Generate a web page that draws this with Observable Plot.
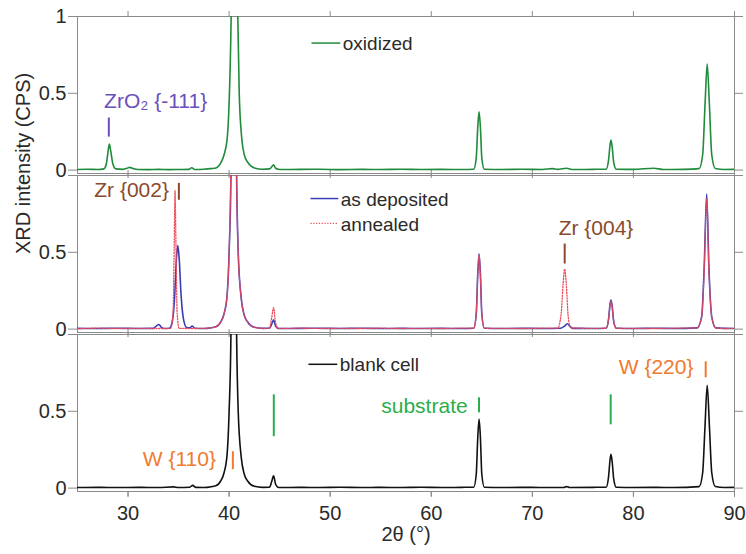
<!DOCTYPE html>
<html><head><meta charset="utf-8">
<script src="https://cdn.jsdelivr.net/npm/d3@7"></script>
<script src="https://cdn.jsdelivr.net/npm/@observablehq/plot@0.6"></script>
<style>body{margin:0;background:#fff} svg{display:block}</style>
</head><body><div id="chart"></div>
<script>
const panels = ["ox", "dep", "blank"];
const xTicks = [30, 40, 50, 60, 70, 80, 90];

// 2θ, normalised intensity
const oxidized = [[25,0.004],[26,0.006],[27,0.004],[27.6,0.008],[27.85,0.04],[28.0,0.11],[28.15,0.17],[28.3,0.12],[28.5,0.04],[28.8,0.008],[29.5,0.005],[29.9,0.012],[30.15,0.018],[30.5,0.01],[31,0.004],[32,0.003],[33,0.005],[34,0.003],[35,0.004],[36,0.005],[36.3,0.015],[36.6,0.004],[37.5,0.006],[38.2,0.01],[38.7,0.014],[39.2,0.05],[39.5,0.1],[39.8,0.2],[40.03,0.5],[40.2,1.0],[40.35,2.0],[40.53,3],[40.7,2.0],[40.86,1.0],[41.0,0.5],[41.26,0.2],[41.5,0.1],[41.85,0.05],[42.5,0.014],[43.3,0.006],[44.0,0.008],[44.2,0.02],[44.4,0.035],[44.6,0.012],[45,0.004],[47,0.005],[49,0.006],[51,0.003],[53,0.005],[55,0.004],[57,0.006],[59,0.004],[61,0.005],[63,0.004],[64.2,0.006],[64.45,0.08],[64.6,0.28],[64.73,0.38],[64.86,0.28],[65.0,0.08],[65.25,0.006],[67,0.004],[69,0.006],[71,0.004],[72,0.01],[72.5,0.005],[73.4,0.012],[74,0.004],[76,0.005],[77.3,0.006],[77.55,0.07],[77.68,0.16],[77.78,0.195],[77.9,0.15],[78.05,0.05],[78.3,0.006],[80,0.005],[82,0.012],[83,0.004],[85,0.005],[86.5,0.01],[86.85,0.1],[87.1,0.45],[87.3,0.69],[87.5,0.45],[87.75,0.1],[88.1,0.01],[89,0.004],[90,0.005]];

const asDeposited = [[25,0.005],[27,0.004],[29,0.006],[31,0.004],[32.5,0.005],[32.8,0.02],[33.05,0.03],[33.3,0.012],[33.6,0.004],[34.1,0.006],[34.35,0.04],[34.6,0.2],[34.78,0.45],[34.92,0.545],[35.06,0.46],[35.25,0.22],[35.5,0.06],[35.8,0.01],[36.1,0.008],[36.35,0.02],[36.6,0.006],[37.5,0.004],[38.3,0.01],[38.7,0.015],[39.2,0.05],[39.5,0.1],[39.8,0.22],[40.0,0.5],[40.18,1.0],[40.3,2.0],[40.46,3],[40.6,2.0],[40.74,1.0],[40.9,0.5],[41.2,0.2],[41.5,0.09],[41.85,0.045],[42.5,0.012],[43.3,0.005],[44.0,0.006],[44.2,0.03],[44.4,0.06],[44.6,0.02],[44.9,0.004],[47,0.005],[49,0.006],[51,0.004],[53,0.006],[55,0.004],[57,0.005],[59,0.004],[61,0.005],[63,0.004],[64.2,0.006],[64.45,0.1],[64.6,0.36],[64.73,0.49],[64.86,0.36],[65.0,0.1],[65.25,0.006],[67,0.004],[69,0.005],[71,0.004],[72.8,0.006],[73.2,0.02],[73.45,0.035],[73.7,0.02],[74.0,0.005],[76,0.004],[77.3,0.006],[77.55,0.07],[77.68,0.16],[77.78,0.19],[77.9,0.15],[78.05,0.05],[78.3,0.006],[80,0.004],[82,0.006],[84,0.004],[86.3,0.008],[86.75,0.08],[87.0,0.4],[87.25,0.88],[87.47,0.4],[87.75,0.08],[88.15,0.008],[89,0.005],[90,0.004]];

const annealed = [[25,0.003],[27,0.006],[29,0.004],[31,0.005],[33,0.004],[34.2,0.005],[34.45,0.1],[34.57,0.55],[34.65,0.9],[34.74,0.55],[34.86,0.1],[35.05,0.005],[36,0.004],[37.5,0.005],[38.3,0.01],[38.7,0.015],[39.2,0.05],[39.5,0.1],[39.8,0.22],[40.0,0.5],[40.16,1.0],[40.3,2.0],[40.45,3],[40.6,2.0],[40.74,1.0],[40.9,0.5],[41.2,0.2],[41.5,0.09],[41.85,0.045],[42.5,0.012],[43.3,0.005],[44.0,0.006],[44.2,0.07],[44.4,0.14],[44.6,0.04],[44.9,0.004],[47,0.006],[49,0.004],[51,0.005],[53,0.004],[55,0.006],[57,0.004],[59,0.005],[61,0.004],[63,0.006],[64.2,0.006],[64.45,0.1],[64.6,0.35],[64.73,0.48],[64.86,0.35],[65.0,0.1],[65.25,0.006],[67,0.005],[69,0.004],[71,0.006],[72.5,0.006],[72.85,0.1],[73.05,0.3],[73.2,0.39],[73.35,0.3],[73.55,0.08],[73.8,0.008],[76,0.005],[77.3,0.006],[77.55,0.07],[77.68,0.15],[77.78,0.18],[77.9,0.14],[78.05,0.05],[78.3,0.006],[80,0.005],[82,0.004],[84,0.006],[86.3,0.008],[86.75,0.08],[87.0,0.38],[87.25,0.85],[87.47,0.38],[87.75,0.08],[88.15,0.008],[89,0.004],[90,0.005]];

const blankCell = [[25,0.004],[27,0.005],[29,0.004],[31,0.005],[33,0.004],[34.5,0.008],[35,0.004],[36.1,0.006],[36.4,0.018],[36.7,0.005],[37.5,0.004],[38.3,0.01],[38.7,0.015],[39.2,0.05],[39.5,0.1],[39.8,0.22],[40.0,0.5],[40.18,1.0],[40.3,2.0],[40.46,3],[40.6,2.0],[40.74,1.0],[40.9,0.5],[41.2,0.2],[41.5,0.09],[41.85,0.045],[42.5,0.012],[43.3,0.005],[44.0,0.006],[44.2,0.04],[44.4,0.08],[44.6,0.025],[44.9,0.004],[47,0.005],[49,0.004],[51,0.006],[53,0.004],[55,0.005],[57,0.004],[59,0.006],[61,0.004],[63,0.005],[64.2,0.006],[64.45,0.09],[64.6,0.33],[64.73,0.45],[64.86,0.33],[65.0,0.09],[65.25,0.006],[67,0.004],[69,0.005],[71,0.004],[73.1,0.004],[73.4,0.01],[73.7,0.004],[76,0.005],[77.3,0.006],[77.55,0.08],[77.68,0.18],[77.78,0.22],[77.9,0.17],[78.05,0.06],[78.3,0.006],[80,0.004],[82,0.005],[84,0.004],[86.5,0.01],[86.85,0.1],[87.08,0.4],[87.3,0.67],[87.52,0.4],[87.75,0.1],[88.1,0.01],[89,0.004],[90,0.005]];

const seriesNames = ["oxidized", "as deposited", "annealed", "blank cell"];
const seriesPanels = ["ox", "dep", "dep", "blank"];
const seriesColors = ["#1f8b3b", "#3a3db5", "#ee4b5a", "#111111"];

// annotations (label text, 2θ, level within panel)
const noteText   = ["ZrO₂ {-111}", "Zr {002}", "Zr {004}", "W {110}", "substrate", "W {220}"];
const notePanel  = ["ox", "dep", "dep", "blank", "blank", "blank"];
const noteX      = [27.63, 34.05, 72.6, 38.7, 63.6, 85.94];
const noteY      = [0.449, 0.904, 0.658, 0.185, 0.536, 0.789];
const noteAnchor = ["start", "end", "start", "end", "end", "end"];
const noteColor  = ["#6b4fbb", "#8b4a2b", "#8b4a2b", "#f07a2e", "#2bae4a", "#f07a2e"];

const barPanel = ["ox", "dep", "dep", "blank", "blank", "blank", "blank", "blank"];
const barX     = [28.1, 35.03, 73.2, 40.37, 64.72, 44.42, 77.75, 87.15];
const barY1    = [0.215, 0.839, 0.424, 0.12, 0.49, 0.335, 0.412, 0.718];
const barY2    = [0.339, 0.949, 0.554, 0.237, 0.588, 0.607, 0.607, 0.822];
const barColor = ["#6b4fbb", "#8b4a2b", "#8b4a2b", "#f07a2e", "#2bae4a", "#2bae4a", "#2bae4a", "#f07a2e"];

// legend entries
const legPanel = ["ox", "dep", "dep", "blank"];
const legX1 = [48.2, 48.1, 48.1, 47.9];
const legX2 = [51.05, 50.85, 50.85, 50.75];
const legY  = [0.827, 0.85, 0.688, 0.806];

const rows = [oxidized, asDeposited, annealed, blankCell].map((s, i) =>
  s.map(([x, y]) => ({x, y, panel: seriesPanels[i], series: seriesNames[i]})));
const notes = noteText.map((t, i) => ({t, panel: notePanel[i], x: noteX[i], y: noteY[i], anchor: noteAnchor[i], color: noteColor[i]}));
const bars = barX.map((x, i) => ({x, panel: barPanel[i], y1: barY1[i], y2: barY2[i], color: barColor[i]}));
const legend = seriesNames.map((name, i) => ({name, panel: legPanel[i], x1: legX1[i], x2: legX2[i], y: legY[i], color: seriesColors[i]}));

const font = "'Liberation Sans', Arial, Helvetica, sans-serif";
const axisGray = "#8a8a8a";
const textCol = "#2a2a2a";
const dotted = "1.2,1.6";

const lineOpts = (i) => ({x: "x", y: "y", fy: "panel", stroke: seriesColors[i], strokeWidth: i === 2 ? 1.3 : 1.6,
  strokeDasharray: i === 2 ? dotted : null, curve: "monotone-x", clip: true});

const chart = Plot.plot({
  width: 746, height: 554,
  marginLeft: 77, marginRight: 12, marginTop: 16, marginBottom: 62,
  style: {fontFamily: font, background: "#fff", color: textCol},
  x: {domain: [25, 90]},
  y: {domain: [-0.022, 1]},
  fy: {domain: panels, axis: null, paddingInner: 0.01, paddingOuter: 0},
  marks: [
    Plot.frame({stroke: axisGray}),
    // bottom x axis with labels (last panel)
    Plot.axisX({anchor: "bottom", ticks: xTicks, tickSize: 6, tickPadding: 8, fontSize: 20, label: null,
      stroke: axisGray, fill: textCol, tickFormat: d => String(d)}),
    // tick-only x axes on every panel
    Plot.axisX({anchor: "bottom", ticks: xTicks, tickSize: 5, label: null, stroke: axisGray, fill: "none", tickFormat: () => "", facetAnchor: null}),
    Plot.axisX({anchor: "top", ticks: xTicks, tickSize: 6, label: null, stroke: axisGray, fill: "none", tickFormat: () => "", facetAnchor: null}),
    // y axes
    Plot.axisY({anchor: "left", ticks: [0, 0.5], tickSize: 9, tickPadding: 2, fontSize: 20, label: null,
      stroke: axisGray, fill: textCol, tickFormat: d => String(d)}),
    Plot.axisY({anchor: "left", ticks: [1], tickSize: 9, label: null, stroke: axisGray, fill: "none", tickFormat: () => ""}),
    Plot.axisY({anchor: "left", ticks: [1], tickSize: 0, tickPadding: 11, fontSize: 20, label: null,
      stroke: "none", fill: textCol, tickFormat: d => String(d), facetAnchor: "top"}),
    Plot.axisY({anchor: "right", ticks: [0, 0.5, 1], tickSize: 8, label: null, stroke: axisGray, fill: "none", tickFormat: () => ""}),
    // data
    Plot.line(rows[0], lineOpts(0)),
    Plot.line(rows[1], lineOpts(1)),
    Plot.line(rows[2], lineOpts(2)),
    Plot.line(rows[3], lineOpts(3)),
    // peak markers and labels
    Plot.ruleX(bars, {x: "x", y1: "y1", y2: "y2", fy: "panel", stroke: "color", strokeWidth: 2}),
    Plot.text(notes.filter(d => d.anchor === "start"), {x: "x", y: "y", fy: "panel", text: "t", fill: "color", textAnchor: "start", fontSize: 21}),
    Plot.text(notes.filter(d => d.anchor === "end"), {x: "x", y: "y", fy: "panel", text: "t", fill: "color", textAnchor: "end", fontSize: 21}),
    // legends
    Plot.ruleY(legend.filter((d, i) => i !== 2), {y: "y", x1: "x1", x2: "x2", fy: "panel", stroke: "color", strokeWidth: 1.5}),
    Plot.ruleY(legend.filter((d, i) => i === 2), {y: "y", x1: "x1", x2: "x2", fy: "panel", stroke: "color", strokeWidth: 1.3, strokeDasharray: dotted}),
    Plot.text(legend, {x: "x2", y: "y", fy: "panel", text: "name", dx: 2, dy: 1, textAnchor: "start", fontSize: 19, fill: textCol}),
    // axis titles
    Plot.text([{panel: "dep", t: "XRD intensity (CPS)"}], {fy: "panel", text: "t", frameAnchor: "left", rotate: -90, dx: -54, fontSize: 20, fill: textCol}),
    Plot.text([{panel: "blank", t: "2θ (°)"}], {fy: "panel", text: "t", frameAnchor: "bottom", dy: 49, fontSize: 20, fill: textCol})
  ]
});
document.getElementById("chart").append(chart);
</script></body></html>
